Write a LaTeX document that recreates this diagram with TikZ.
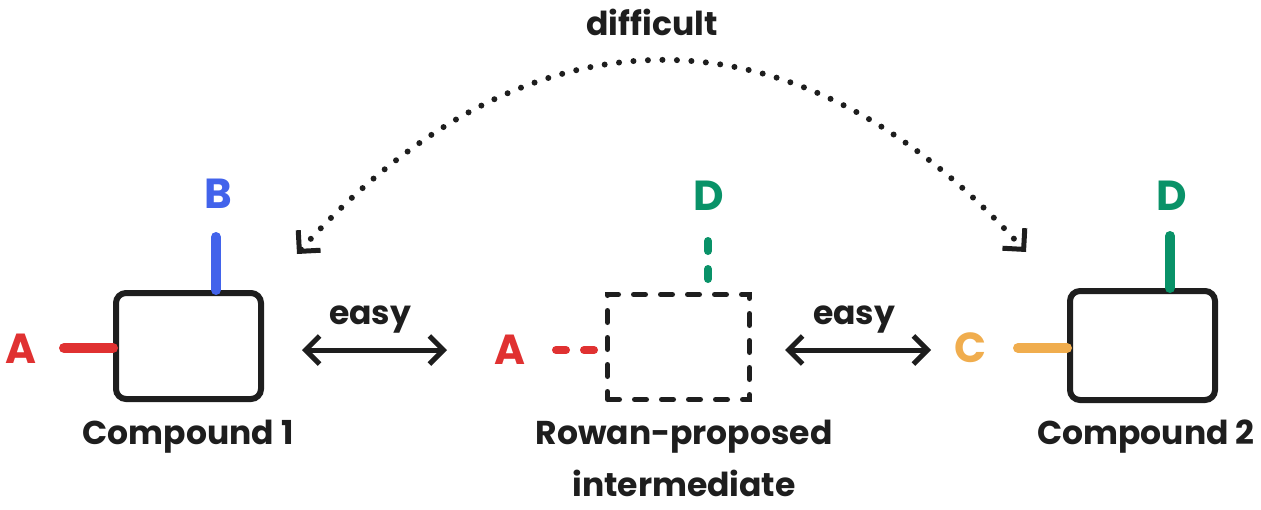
\documentclass[tikz,border=0pt]{standalone}
\usepackage{fontspec}
\setmainfont{Poppins}
\usetikzlibrary{arrows.meta}
\definecolor{ink}{HTML}{1E1E1E}
\definecolor{cred}{HTML}{E03131}
\definecolor{cblue}{HTML}{4263EB}
\definecolor{cgreen}{HTML}{099268}
\definecolor{corange}{HTML}{F0AD4E}
\tikzset{
  cbox/.style={draw=ink, line width=6pt, rounded corners=10pt, rectangle, inner sep=0pt},
  dbox/.style={draw=ink, line width=5pt, rectangle, inner sep=0pt, dash pattern=on 12pt off 15pt, line cap=round},
  stub/.style={line width=10pt, line cap=round},
  dstub/.style={line width=8pt, line cap=round, dash pattern=on 10pt off 18pt},
  lbl/.style={font=\fontsize{42}{48}\selectfont\bfseries, inner sep=0pt},
  txt/.style={font=\fontsize{33}{40}\selectfont\bfseries, text=ink, inner sep=0pt, align=center},
  easyarrow/.style={draw=ink, line width=5pt, line cap=round, {Straight Barb[length=14pt,width=28pt,line width=5pt]}-{Straight Barb[length=14pt,width=28pt,line width=5pt]}},
  dotarc/.style={draw=ink, line width=6pt, line cap=round, dash pattern=on 0pt off 14.5pt, {Straight Barb[length=15pt,width=30pt,line width=5pt]}-{Straight Barb[length=15pt,width=30pt,line width=5pt]}}
}
\begin{document}
\begin{tikzpicture}[x=1pt,y=-1pt]
\useasboundingbox (0,0) rectangle (1261,509);
% boxes
\node[cbox, minimum width=145pt, minimum height=106pt] (c1) at (188.5,346) {};
\node[dbox, minimum width=142pt, minimum height=105pt] (mi) at (678.5,347) {};
\node[cbox, minimum width=145pt, minimum height=109pt] (c2) at (1142.5,345.5) {};
% compound 1 substituents
\coordinate (a1) at (64,348);
\coordinate (b1) at (216,237);
\draw[stub, cred] (a1) -- (a1 -| c1.west);
\draw[stub, cblue] (b1) -- (b1 |- c1.north);
\node[lbl, text=cred] (la1) at (21,349) {A};
\node[lbl, text=cblue] (lb1) at (218,194) {B};
% intermediate substituents
\coordinate (a2) at (556,350);
\coordinate (d2) at (708,241);
\draw[dstub, cred] (a2) -- (a2 -| mi.west);
\draw[dstub, cgreen] (d2) -- (d2 |- mi.north);
\node[lbl, text=cred] (la2) at (510,350) {A};
\node[lbl, text=cgreen] (ld2) at (709,196) {D};
% compound 2 substituents
\coordinate (cc) at (1018,348);
\coordinate (d3) at (1170,236);
\draw[stub, corange] (cc) -- (cc -| c2.west);
\draw[stub, cgreen] (d3) -- (d3 |- c2.north);
\node[lbl, text=corange] (lc) at (970,348) {C};
\node[lbl, text=cgreen] (ld3) at (1172,196) {D};
% easy arrows
\coordinate (e1l) at (302,350);
\coordinate (e1r) at (447,350);
\coordinate (e2l) at (785,350);
\coordinate (e2r) at (931,350);
\draw[easyarrow] (e1l) -- (e1r);
\draw[easyarrow] (e2l) -- (e2r);
\node[txt] (easy1) at (370,320) {easy};
\node[txt] (easy2) at (854,320) {easy};
% difficult arc
\coordinate (dl) at (297,254);
\coordinate (dr) at (1026,252);
\draw[dotarc] (dl) .. controls (528,-3) and (797,-3) .. (dr);
\node[txt] (diff) at (652,22) {difficult};
% captions
\node[txt] (cap1) at (188,437) {Compound 1};
\node[txt] (cap2) at (1146,437) {Compound 2};
\node[txt] (cap3) at (684,437) {Rowan-proposed};
\node[txt] (cap4) at (684,483) {intermediate};
\end{tikzpicture}
\end{document}
